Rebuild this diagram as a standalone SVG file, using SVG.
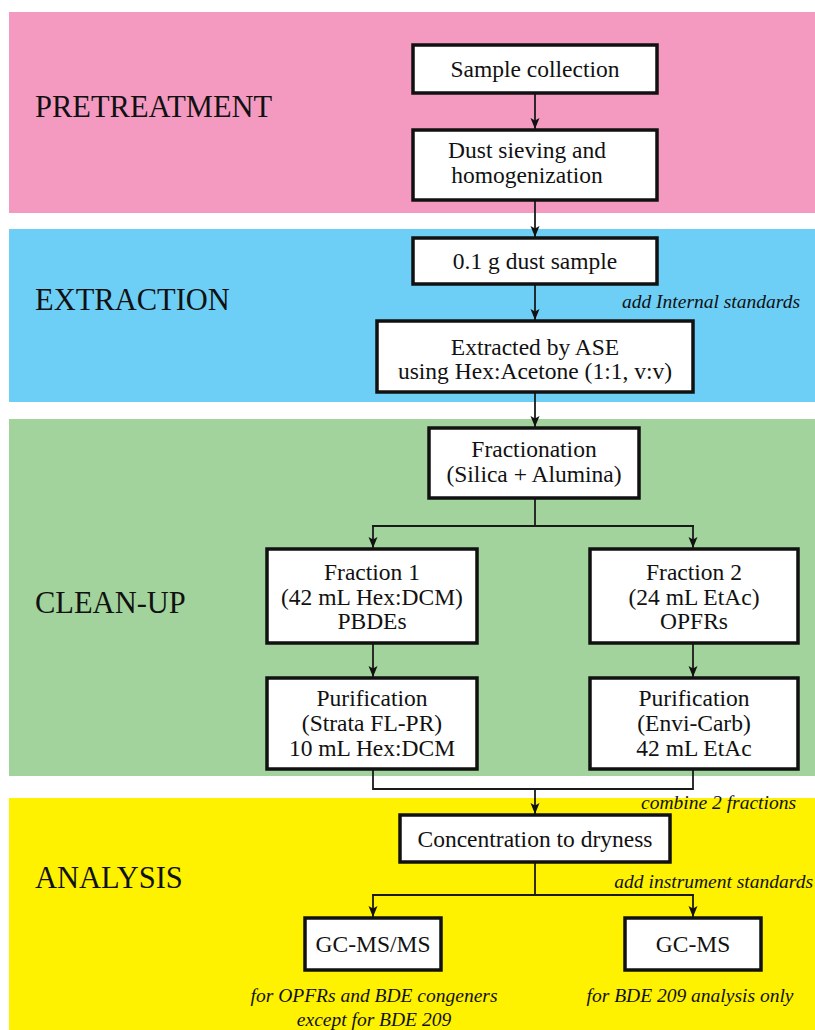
<svg xmlns="http://www.w3.org/2000/svg" width="815" height="1030" viewBox="0 0 815 1030">
<defs>
<marker id="ah" markerUnits="userSpaceOnUse" markerWidth="12" markerHeight="10" refX="11" refY="5" orient="auto" overflow="visible">
<path d="M0,0.5 L11,5 L0,9.5 L2.5,5 Z" fill="#111"/>
</marker>
<style>
.box{fill:#fff;stroke:#111;stroke-width:3.5}
.t{font-family:"Liberation Serif","Times New Roman",serif;font-size:23.5px;fill:#111;text-anchor:middle}
.lbl{font-family:"Liberation Serif","Times New Roman",serif;font-size:30.5px;fill:#111}
.note{font-family:"Liberation Serif","Times New Roman",serif;font-size:19.5px;font-style:italic;fill:#111}
.c{fill:none;stroke:#1a1a1a;stroke-width:1.8}
.ca{fill:none;stroke:#1a1a1a;stroke-width:1.8;marker-end:url(#ah)}
</style>
</defs>
<rect width="815" height="1030" fill="#fff"/>
<g id="bands">
<rect x="9" y="12" width="806" height="201" fill="#f49ac1"/>
<rect x="9" y="229" width="806" height="173" fill="#6dcff6"/>
<rect x="9" y="419" width="806" height="357" fill="#a3d39c"/>
<rect x="9" y="798" width="806" height="232" fill="#fff200"/>
<text class="lbl" x="35" y="117">PRETREATMENT</text>
<text class="lbl" x="35" y="310">EXTRACTION</text>
<text class="lbl" x="35" y="613">CLEAN-UP</text>
<text class="lbl" x="35" y="888">ANALYSIS</text>
</g>
<g id="connectors">
<line class="ca" x1="535" y1="93" x2="535" y2="129"/>
<line class="ca" x1="535" y1="200" x2="535" y2="237"/>
<line class="ca" x1="535" y1="284" x2="535" y2="320"/>
<line class="ca" x1="535" y1="392" x2="535" y2="427"/>
<line class="c" x1="535" y1="498" x2="535" y2="526"/>
<line class="c" x1="372" y1="526" x2="694" y2="526"/>
<line class="ca" x1="373" y1="526" x2="373" y2="548"/>
<line class="ca" x1="693" y1="526" x2="693" y2="548"/>
<line class="ca" x1="373" y1="643" x2="373" y2="677"/>
<line class="ca" x1="693" y1="643" x2="693" y2="677"/>
<polyline class="c" points="373,769 373,789 693,789 693,769"/>
<line class="ca" x1="535" y1="789" x2="535" y2="814"/>
<line class="c" x1="535" y1="862" x2="535" y2="895"/>
<line class="c" x1="372" y1="895" x2="694" y2="895"/>
<line class="ca" x1="373" y1="895" x2="373" y2="917"/>
<line class="ca" x1="693" y1="895" x2="693" y2="917"/>
<text class="note" x="800" y="308" text-anchor="end">add Internal standards</text>
<text class="note" x="796" y="809" text-anchor="end">combine 2 fractions</text>
<text class="note" x="813" y="888" text-anchor="end">add instrument standards</text>
</g>
<g id="n1"><rect class="box" x="413" y="45" width="244" height="48"/><text class="t" x="535" y="77">Sample collection</text></g>
<g id="n2"><rect class="box" x="413" y="130" width="244" height="70"/><text class="t" x="527" y="158">Dust sieving and</text><text class="t" x="527" y="183">homogenization</text></g>
<g id="n3"><rect class="box" x="413" y="238" width="244" height="46"/><text class="t" x="535" y="269">0.1 g dust sample</text></g>
<g id="n4"><rect class="box" x="377" y="321" width="316" height="71"/><text class="t" x="535" y="355">Extracted by ASE</text><text class="t" x="535" y="379">using Hex:Acetone (1:1, v:v)</text></g>
<g id="n5"><rect class="box" x="429" y="428" width="210" height="70"/><text class="t" x="534" y="457">Fractionation</text><text class="t" x="534" y="482">(Silica + Alumina)</text></g>
<g id="n6"><rect class="box" x="267" y="549" width="210" height="94"/><text class="t" x="372" y="580">Fraction 1</text><text class="t" x="372" y="605">(42 mL Hex:DCM)</text><text class="t" x="372" y="629">PBDEs</text></g>
<g id="n7"><rect class="box" x="590" y="549" width="208" height="94"/><text class="t" x="694" y="580">Fraction 2</text><text class="t" x="694" y="605">(24 mL EtAc)</text><text class="t" x="694" y="629">OPFRs</text></g>
<g id="n8"><rect class="box" x="267" y="678" width="210" height="91"/><text class="t" x="372" y="706">Purification</text><text class="t" x="372" y="731">(Strata FL-PR)</text><text class="t" x="372" y="756">10 mL Hex:DCM</text></g>
<g id="n9"><rect class="box" x="590" y="678" width="208" height="91"/><text class="t" x="694" y="706">Purification</text><text class="t" x="694" y="731">(Envi-Carb)</text><text class="t" x="694" y="756">42 mL EtAc</text></g>
<g id="n10"><rect class="box" x="400" y="815" width="270" height="47"/><text class="t" x="535" y="847">Concentration to dryness</text></g>
<g id="n11"><rect class="box" x="305" y="918" width="136" height="52"/><text class="t" x="373" y="952">GC-MS/MS</text><text class="note" x="374" y="1002" text-anchor="middle">for OPFRs and BDE congeners</text><text class="note" x="374" y="1026" text-anchor="middle">except for BDE 209</text></g>
<g id="n12"><rect class="box" x="625" y="918" width="136" height="52"/><text class="t" x="693" y="952">GC-MS</text><text class="note" x="690" y="1002" text-anchor="middle">for BDE 209 analysis only</text></g>
</svg>
